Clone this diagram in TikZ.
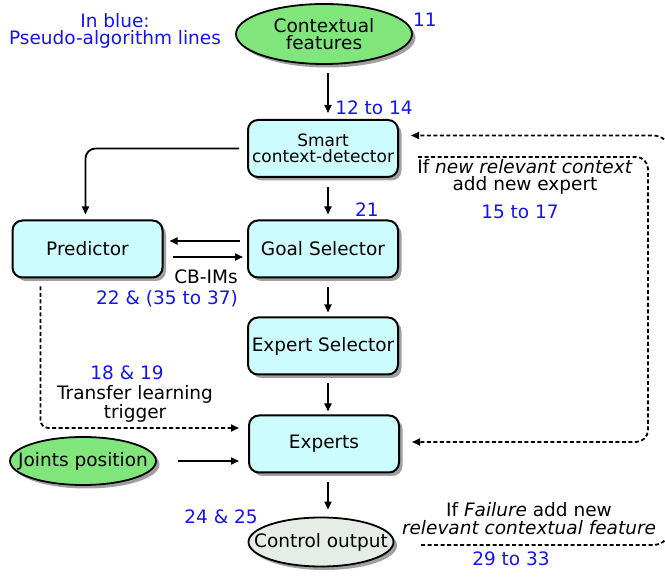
\documentclass[tikz,border=0pt]{standalone}
\usepackage{fontspec}
\setmainfont{DejaVu Sans}
\usetikzlibrary{shapes.geometric,shadows,arrows.meta}
\definecolor{algblue}{RGB}{20,20,240}
\definecolor{boxcyan}{RGB}{204,252,253}
\definecolor{ellgreen}{RGB}{128,230,124}
\definecolor{outgray}{RGB}{230,237,230}
\begin{document}
\begin{tikzpicture}[x=1pt,y=-1pt,
  every node/.style={font=\fontsize{18.5}{17.5}\selectfont},
  shadowed/.style={drop shadow={shadow xshift=3.5pt, shadow yshift=-3.5pt, opacity=.75}},
  box/.style={rectangle, rounded corners=10pt, draw, line width=2pt, fill=boxcyan,
    minimum width=150pt, minimum height=57pt, inner sep=2pt, align=center, shadowed},
  ell/.style={ellipse, draw, line width=1.8pt, inner sep=0pt, align=center, shadowed},
  conn/.style={line width=1.8pt, -{Triangle[length=8pt,width=7pt]}},
  dconn/.style={conn, dash pattern=on 4pt off 2.5pt},
  alg/.style={text=algblue, align=center},
  ]
% nodes
\node[ell, fill=ellgreen, minimum width=176pt, minimum height=60pt] (cf) at (324,34) {Contextual\\features};
\node[alg] (n11) at (425,20) {11};
\node[alg] (leg) at (115,31) {In blue:\\Pseudo-algorithm lines};
\node[alg] (n1214) at (374,108) {12 to 14};
\node[box, font=\fontsize{17}{16.5}\selectfont] (scd) at (323,148.5) {Smart\\context-detector};
\node[alg] (n21) at (367,210) {21};
\node[align=center] (ifnew) at (525,177) {If \textit{new relevant context}\\add new expert};
\node[alg] (n1517) at (520,212) {15 to 17};
\node[box] (pred) at (87.5,249) {Predictor};
\node[box] (gs) at (323,249) {Goal Selector};
\node (cbims) at (206,277) {CB-IMs};
\node[alg] (n22) at (167,299) {22 \& (35 to 37)};
\node[box] (es) at (323,346) {Expert Selector};
\node[alg] (n1819) at (127,373) {18 \& 19};
\node[align=center] (tlt) at (135,403.5) {Transfer learning\\trigger};
\node[box] (exp) at (324,444) {Experts};
\node[ell, fill=ellgreen, minimum width=146pt, minimum height=48pt] (jp) at (83,461) {\makebox[0pt]{Joints position}};
\node[alg] (n2425) at (221,517) {24 \& 25};
\node[ell, fill=outgray, minimum width=145pt, minimum height=49pt] (co) at (321,542) {\makebox[0pt]{Control output}};
\node[align=center] (iffail) at (529,518.5) {If \textit{Failure} add new\\\textit{relevant contextual feature}};
\node[alg] (n2933) at (511,559) {29 to 33};

% vertical connectors
\draw[conn, shorten <=8pt, shorten >=6pt] ([xshift=4pt]cf.south) -- ([xshift=4pt]cf.south |- scd.north);
\draw[conn, shorten <=9pt, shorten >=5pt] ([xshift=5pt]scd.south) -- ([xshift=5pt]scd.south |- gs.north);
\draw[conn, shorten <=9pt, shorten >=4pt] ([xshift=5pt]gs.south) -- ([xshift=5pt]gs.south |- es.north);
\draw[conn, shorten <=8pt, shorten >=3pt] ([xshift=5pt]es.south) -- ([xshift=5pt]es.south |- exp.north);
\draw[conn, shorten <=9pt, shorten >=7pt] ([xshift=4pt]exp.south) -- ([xshift=4pt]exp.south |- co.north);

% horizontal connectors
\draw[conn, shorten <=7pt, shorten >=6pt] ([yshift=8pt]gs.west) -- ([yshift=8pt]gs.west -| pred.east);
\draw[conn, shorten <=9pt, shorten >=4pt] ([yshift=-8pt]pred.east) -- ([yshift=-8pt]pred.east -| gs.west);
\draw[conn, rounded corners=10pt, shorten <=8pt, shorten >=5pt] (scd.west) -| ([xshift=-2pt]pred.north);
\draw[conn, shorten <=21pt, shorten >=9pt] (jp.east) -- (jp.east -| exp.west);

% dashed connectors
\draw[dconn, rounded corners=8pt, shorten <=8pt, shorten >=9pt] ([xshift=29pt]pred.south west) |- ([yshift=16pt]exp.west);
\coordinate (c1) at (418,157);
\draw[dconn, rounded corners=12pt, shorten >=12pt] (c1) -- (648,157) |- ([yshift=2pt]exp.east);
\coordinate (c2) at (421,545);
\draw[dconn, rounded corners=18pt, shorten >=12pt] (c2) -- (671,545) |- ([yshift=13pt]scd.east);

\pgfresetboundingbox
\path[use as bounding box] (0,0) rectangle (665,577);
\end{tikzpicture}
\end{document}
